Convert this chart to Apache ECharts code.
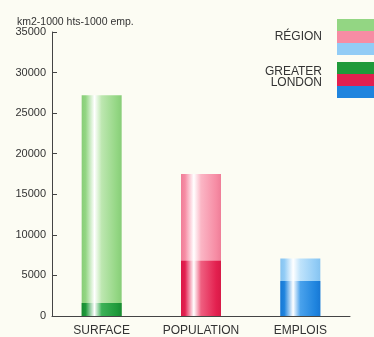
<!DOCTYPE html>
<html><head><meta charset="utf-8">
<script src="https://cdn.jsdelivr.net/npm/echarts@6/dist/echarts.min.js"></script>
<style>html,body{margin:0;padding:0;background:#fcfcf3}#c{width:374px;height:337px}</style>
</head><body><div id="c"></div>
<script>
var categories = ['SURFACE', 'POPULATION', 'EMPLOIS'];
var regionValues = [27200, 17500, 7100];
var londonValues = [1600, 6800, 4300];
var yTicks = [0, 5000, 10000, 15000, 20000, 25000, 30000, 35000];
var unitLabel = 'km2-1000 hts-1000 emp.';
var legendRegion = 'RÉGION';
var legendLondon = ['GREATER', 'LONDON'];

var regionColors = [['#93d683', '#bde7b0', '#88cd78'], ['#f68ca4', '#fbb6c5', '#ef7e98'], ['#92ccf6', '#bfe3fb', '#86c3f0']];
var londonColors = [['#1f9a3a', '#3db257', '#178a32'], ['#e3204f', '#ef5f80', '#d81a47'], ['#1f84de', '#4aa2ec', '#1878d4']];
var FONT = '"Liberation Sans", Arial, sans-serif';

function grad(c) {
  return new echarts.graphic.LinearGradient(0, 0, 1, 0, [
    {offset: 0, color: c[2]},
    {offset: 0.1, color: c[0]},
    {offset: 0.32, color: '#ffffff'},
    {offset: 0.5, color: c[1]},
    {offset: 0.88, color: c[0]},
    {offset: 1, color: c[2]}
  ]);
}

var chart = echarts.init(document.getElementById('c'));
var graphics = [];
var sw = [[regionColors, 19], [londonColors, 62]];
sw.forEach(function (s) {
  for (var i = 0; i < 3; i++) {
    graphics.push({type: 'rect', left: 337, top: s[1] + i * 12, shape: {width: 37, height: 12}, style: {fill: s[0][i][0]}});
  }
});
graphics.push({type: 'text', right: 52, top: 31, style: {text: legendRegion, fill: '#333', font: '12px ' + FONT}});
graphics.push({type: 'text', right: 52, top: 66, style: {text: legendLondon[0], fill: '#333', font: '12px ' + FONT}});
graphics.push({type: 'text', right: 52, top: 77, style: {text: legendLondon[1], fill: '#333', font: '12px ' + FONT}});

chart.setOption({
  backgroundColor: '#fcfcf3',
  animation: false,
  title: {text: unitLabel, left: 12, top: 12, textStyle: {fontSize: 10.5, fontWeight: 'normal', color: '#333', fontFamily: FONT}},
  grid: {left: 52, right: 24, top: 32, bottom: 21, containLabel: false},
  xAxis: {
    type: 'category', data: categories,
    axisLine: {lineStyle: {color: '#444', width: 1}},
    axisTick: {inside: true, length: 5, lineStyle: {color: '#444'}},
    axisLabel: {color: '#333', fontSize: 12, margin: 9, interval: 0, hideOverlap: false, fontFamily: FONT}
  },
  yAxis: {
    type: 'value', min: 0, max: 35000, interval: 5000,
    axisLine: {show: true, lineStyle: {color: '#444', width: 1}},
    axisTick: {show: true, inside: true, length: 5, lineStyle: {color: '#444'}},
    splitLine: {show: false},
    axisLabel: {color: '#333', fontSize: 11, margin: 6, fontFamily: FONT,
      formatter: function (v) { return yTicks.indexOf(v) >= 0 ? String(v) : ''; }}
  },
  series: [
    {type: 'bar', barWidth: 40, z: 2,
      data: regionValues.map(function (v, i) { return {value: v, itemStyle: {color: grad(regionColors[i])}}; })},
    {type: 'bar', barWidth: 40, barGap: '-100%', z: 3,
      data: londonValues.map(function (v, i) { return {value: v, itemStyle: {color: grad(londonColors[i])}}; })}
  ],
  graphic: graphics
});
</script></body></html>
